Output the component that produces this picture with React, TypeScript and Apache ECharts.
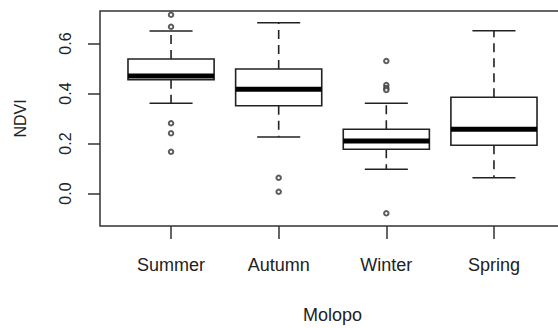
import React, { useEffect, useRef } from "react";
import * as echarts from "echarts";

const categories = ["Summer", "Autumn", "Winter", "Spring"];
// [lower whisker, Q1, median, Q3, upper whisker]
const boxStats = [
  [0.361, 0.455, 0.47, 0.538, 0.65],
  [0.226, 0.351, 0.417, 0.498, 0.683],
  [0.097, 0.177, 0.21, 0.257, 0.361],
  [0.063, 0.193, 0.257, 0.385, 0.651],
];
// [category index (1-based), value]
const outliers = [
  [1, 0.715], [1, 0.667], [1, 0.281], [1, 0.241], [1, 0.167],
  [2, 0.063], [2, 0.007],
  [3, 0.53], [3, 0.434], [3, 0.422], [3, 0.414], [3, -0.079],
];
const yTicks = [0, 0.2, 0.4, 0.6];
const xTicks = [1, 2, 3, 4];

const FONT = "'Liberation Sans', Arial, sans-serif";
const INK = "#222";

export default function App() {
  const ref = useRef<HTMLDivElement>(null);
  useEffect(() => {
    document.body.style.margin = "0";
    const chart = echarts.init(ref.current!, null, { renderer: "svg" });
    const boxData = boxStats.map((s, i) => [i + 1, ...s]);
    chart.setOption({
      animation: false,
      backgroundColor: "#fff",
      grid: {
        left: 100,
        top: 11,
        right: -7,
        bottom: 102,
        show: true,
        borderColor: "#333",
        borderWidth: 1.5,
        backgroundColor: "transparent",
        containLabel: false,
        outerBoundsMode: "none",
      },
      xAxis: {
        type: "value",
        min: 0.34,
        max: 4.66,
        axisLine: { show: false, onZero: false },
        splitLine: { show: false },
        axisTick: {
          show: true,
          customValues: xTicks,
          length: 13,
          lineStyle: { color: "#333", width: 1.5 },
        },
        axisLabel: {
          customValues: xTicks,
          formatter: (v: number) => categories[Math.round(v) - 1] ?? "",
          margin: 30,
          fontFamily: FONT,
          fontSize: 18,
          color: INK,
        },
        name: "Molopo",
        nameLocation: "middle",
        nameGap: 80,
        nameTextStyle: { fontFamily: FONT, fontSize: 18, color: INK },
      },
      yAxis: {
        type: "value",
        min: -0.13,
        max: 0.73,
        axisLine: { show: false, onZero: false },
        splitLine: { show: false },
        axisTick: {
          show: true,
          customValues: yTicks,
          length: 12,
          lineStyle: { color: "#333", width: 1.5 },
        },
        axisLabel: {
          customValues: yTicks,
          formatter: (v: number) => v.toFixed(1),
          rotate: 90,
          margin: 27,
          fontFamily: FONT,
          fontSize: 16,
          color: INK,
        },
        name: "NDVI",
        nameLocation: "middle",
        nameRotate: 90,
        nameGap: 72,
        nameTextStyle: { fontFamily: FONT, fontSize: 16, color: INK },
      },
      series: [
        {
          type: "custom",
          data: boxData,
          encode: { x: 0, y: [1, 2, 3, 4, 5] },
          renderItem: (params: any, api: any) => {
            const x = api.value(0);
            const lo = api.coord([x, api.value(1)]);
            const q1 = api.coord([x, api.value(2)]);
            const med = api.coord([x, api.value(3)]);
            const q3 = api.coord([x, api.value(4)]);
            const hi = api.coord([x, api.value(5)]);
            const boxW = api.size([0.8, 0])[0];
            const capW = api.size([0.4, 0])[0];
            const cx = q1[0];
            const lineStyle = { stroke: INK, lineWidth: 1.6, fill: null };
            const dashStyle = { stroke: INK, lineWidth: 1.6, lineDash: [9, 6], fill: null };
            return {
              type: "group",
              children: [
                { type: "line", shape: { x1: cx, y1: q3[1], x2: cx, y2: hi[1] }, style: dashStyle },
                { type: "line", shape: { x1: cx, y1: q1[1], x2: cx, y2: lo[1] }, style: dashStyle },
                { type: "line", shape: { x1: cx - capW / 2, y1: hi[1], x2: cx + capW / 2, y2: hi[1] }, style: lineStyle },
                { type: "line", shape: { x1: cx - capW / 2, y1: lo[1], x2: cx + capW / 2, y2: lo[1] }, style: lineStyle },
                {
                  type: "rect",
                  shape: { x: cx - boxW / 2, y: q3[1], width: boxW, height: q1[1] - q3[1] },
                  style: { stroke: INK, lineWidth: 1.6, fill: "#fff" },
                },
                {
                  type: "line",
                  shape: { x1: cx - boxW / 2, y1: med[1], x2: cx + boxW / 2, y2: med[1] },
                  style: { stroke: "#000", lineWidth: 5, fill: null },
                },
              ],
            };
          },
        },
        {
          type: "scatter",
          data: outliers,
          symbol: "emptyCircle",
          symbolSize: 4.5,
          z: 5,
          itemStyle: { color: "#333", borderColor: "#333", borderWidth: 1.2 },
        },
      ],
    });
    return () => chart.dispose();
  }, []);
  return <div ref={ref} style={{ width: 558, height: 328 }} />;
}
